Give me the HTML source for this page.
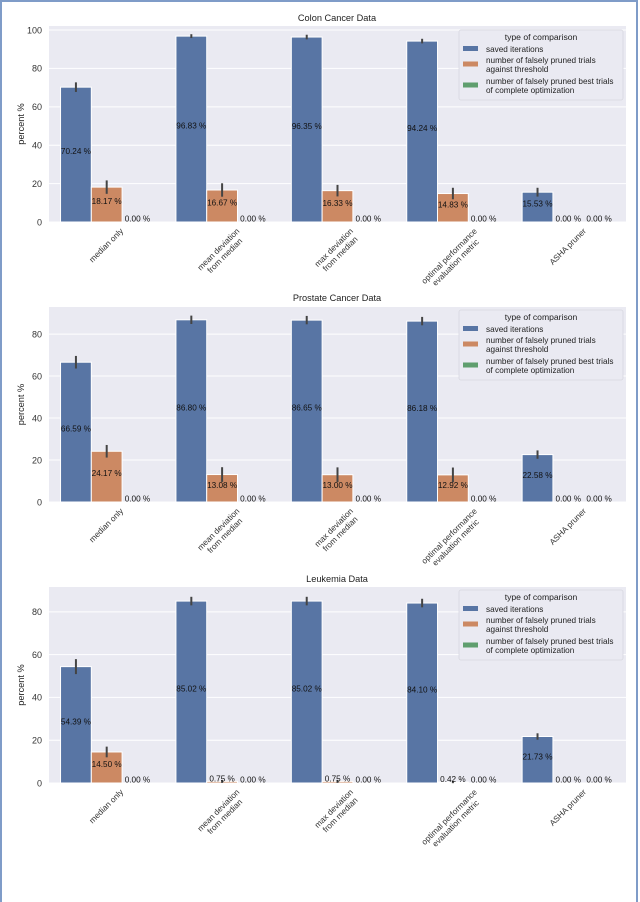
<!DOCTYPE html>
<html><head><meta charset="utf-8">
<style>
html,body{margin:0;padding:0;background:#fff;}
body{width:640px;height:897px;overflow:hidden;position:relative;font-family:"Liberation Sans",Arial,sans-serif;}
#frame{position:absolute;left:0;top:0;width:634px;height:900px;border:2px solid #7f9cc8;border-bottom:none;}
svg{position:absolute;left:0;top:0;}
</style></head>
<body>
<div id="frame"></div>
<svg id="chart" width="640" height="897"></svg>
<script>
const categories = [["median only"],["mean deviation","from median"],["max deviation","from median"],["optimal performance","evaluation metric"],["ASHA pruner"]];
const seriesNames = ["saved iterations","number of falsely pruned trials|against threshold","number of falsely pruned best trials|of complete optimization"];
const colonSaved = [70.24,96.83,96.35,94.24,15.53];
const colonPruned = [18.17,16.67,16.33,14.83,0];
const colonBest = [0,0,0,0,0];
const colonSavedErr = [2.5,1,1.2,1.2,2.3];
const colonPrunedErr = [3.5,3.5,3,3,0];
const prostateSaved = [66.59,86.80,86.65,86.18,22.58];
const prostatePruned = [24.17,13.08,13.00,12.92,0];
const prostateBest = [0,0,0,0,0];
const prostateSavedErr = [3,2,2,2,2];
const prostatePrunedErr = [3,3.5,3.5,3.5,0];
const leukSaved = [54.39,85.02,85.02,84.10,21.73];
const leukPruned = [14.50,0.75,0.75,0.42,0];
const leukBest = [0,0,0,0,0];
const leukSavedErr = [3.5,2,2,2,1.5];
const leukPrunedErr = [2.5,0.7,0.7,0.5,0];
const colonTicks = [0,20,40,60,80,100];
const otherTicks = [0,20,40,60,80];

const NS="http://www.w3.org/2000/svg";
const svg=document.getElementById('chart');
const colors=["#5875a4","#cc8963","#5f9e6e"];
function mk(tag,attrs,parent){const e=document.createElementNS(NS,tag);for(const k in attrs)e.setAttribute(k,attrs[k]);(parent||svg).appendChild(e);return e;}

function drawPanel(p){
  const g=mk('g',{});
  
  
  const x0=49,x1=626;
  const y=v=>p.zeroY-(v/p.ymax)*(p.zeroY-p.top);
  const bg=mk('rect',{x:x0,y:p.top,width:x1-x0,height:p.zeroY-p.top,fill:"#eaeaf2"},g);
  
  
  p.ticks.forEach(t=>{
    mk('line',{x1:x0,x2:x1,y1:y(t),y2:y(t),stroke:"#fff","stroke-width":1},g);
    const tl=mk('text',{x:x0-7,y:y(t)+3.3,"text-anchor":"end","font-size":9,fill:"#333"},g);
    tl.textContent=t;
    
    
  });
  const ttl=mk('text',{x:337,y:p.titleY,"text-anchor":"middle","font-size":9.2,fill:"#222"},g);
  ttl.textContent=p.title;
  
  
  const cy=(p.top+p.zeroY)/2;
  const yl=mk('text',{x:0,y:0,transform:`translate(24,${cy}) rotate(-90)`,"text-anchor":"middle","font-size":9.2,fill:"#222"},g);
  yl.textContent="percent %";
  
  
  const gw=(x1-x0)/categories.length, bw=gw*0.8/3;
  const series=[p.s,p.o,p.b], errs=[p.se,p.oe,null];
  categories.forEach((c,i)=>{
    const gc=x0+gw*(i+0.5);
    series.forEach((arr,s)=>{
      const v=arr[i];
      const bx=gc-gw*0.4+bw*s;
      if(v>0){
        const r=mk('rect',{x:bx,y:y(v),width:bw,height:p.zeroY-y(v),fill:colors[s],stroke:"#fff","stroke-width":1},g);
        
        
      }
      if(errs[s]&&errs[s][i]>0){
        const e=errs[s][i];
        mk('line',{x1:bx+bw/2,x2:bx+bw/2,y1:y(v-e),y2:y(v+e),stroke:"#444","stroke-width":2},g);
      }
      const lb=mk('text',{x:bx+bw/2,y:y(v/2)-0.5,"text-anchor":"middle","font-size":8.2,fill:"#111"},g);
      lb.textContent=v.toFixed(2)+" %";
      
      
    });
    const lg=mk('g',{},g);
    
    
    const ts=c.map((line,k)=>{const t=mk('text',{x:0,y:0,"text-anchor":"middle","font-size":8.2,fill:"#333"},lg);t.textContent=line;return t;});
    let W=0;ts.forEach(t=>{W=Math.max(W,t.getComputedTextLength());});
    const lh=9,H=lh*c.length;
    ts.forEach((t,k)=>t.setAttribute('y',-H/2+lh*k+6.5));
    const half=(W+H)*0.7071/2;
    lg.setAttribute('transform',`translate(${gc},${p.zeroY+5+half}) rotate(-45)`);
  });
  const L=mk('g',{},g);
  
  
  const ly=p.legY;
  mk('rect',{x:459,y:ly,width:164,height:70,fill:"#eaeaf2",stroke:"#d8d8e0","stroke-width":0.8,rx:2},L);
  const lt=mk('text',{x:541,y:ly+10,"text-anchor":"middle","font-size":8.6,fill:"#222"},L);
  lt.textContent="type of comparison";
  const offs=[[22],[33,42],[54,63]];
  seriesNames.forEach((n,s)=>{
    const lines=n.split('|');
    const sy=offs[s].length>1?ly+(offs[s][0]+offs[s][1])/2:ly+offs[s][0];
    const sw=mk('rect',{x:463,y:sy-6,width:15,height:5,fill:colors[s]},L);
    
    
    lines.forEach((ln,k)=>{
      const t=mk('text',{x:486,y:ly+offs[s][k],"font-size":8.2,fill:"#222"},L);
      t.textContent=ln;
      
      
    });
  });
}
drawPanel({id:'colon',title:'Colon Cancer Data',titleY:21,top:26,zeroY:222,ymax:102.1,ticks:colonTicks,s:colonSaved,o:colonPruned,b:colonBest,se:colonSavedErr,oe:colonPrunedErr,legY:30});
drawPanel({id:'prostate',title:'Prostate Cancer Data',titleY:301,top:307,zeroY:502,ymax:92.9,ticks:otherTicks,s:prostateSaved,o:prostatePruned,b:prostateBest,se:prostateSavedErr,oe:prostatePrunedErr,legY:310});
drawPanel({id:'leukemia',title:'Leukemia Data',titleY:582,top:587,zeroY:783,ymax:91.6,ticks:otherTicks,s:leukSaved,o:leukPruned,b:leukBest,se:leukSavedErr,oe:leukPrunedErr,legY:590});
</script>
</body></html>
